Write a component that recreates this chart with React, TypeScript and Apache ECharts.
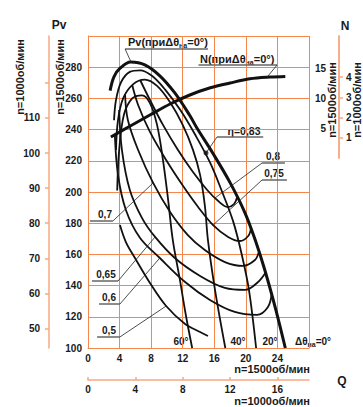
import React, { useEffect, useRef } from "react";
import * as echarts from "echarts";

// ---- axis ticks ----
const qTicks1500 = [0, 4, 8, 12, 16, 20, 24];
const qTicks1000 = [0, 4, 8, 12, 16];
const pvTicks1500 = [100, 120, 140, 160, 180, 200, 220, 240, 260, 280];
const pvTicks1000 = [50, 60, 70, 80, 90, 100, 110, 120];
const pvLabels1000 = [50, 60, 70, 80, 90, 100, 110];
const nTicks1500 = [5, 10, 15];
const nTicks1000 = [1, 2, 3, 4];

// ---- Pv(Q) at n=1500 for guide vane angles ----
const pv0 = [[2.8, 265], [3.3, 274], [4.1, 279.5], [5.4, 283.3], [7.2, 281.5], [9.1, 274.5], [11, 263.5], [12.9, 249], [13.8, 241], [15.8, 225], [18, 206], [19.9, 186.5], [21.2, 169], [22.4, 150], [23.8, 124.5], [25, 100]];
const pv20 = [[3.3, 246], [3.55, 259], [4.2, 270.5], [5.3, 277], [6.6, 278], [8.1, 274.5], [9.8, 265.5], [11.7, 252.5], [13.6, 236.5], [15.5, 218.5], [17, 200], [18.4, 181], [19.5, 159.5], [20.4, 137], [21.3, 100]];
const pv40 = [[3.55, 227], [3.8, 246], [4.45, 260], [5.7, 269], [7.2, 272], [8.75, 268], [10.4, 257.5], [12, 243], [13.3, 227], [14.2, 211], [14.8, 191.5], [15.2, 169], [16.1, 137], [17.4, 100]];
const pv60 = [[3.7, 201], [3.95, 227], [4.55, 249.5], [5.6, 260], [6.85, 262], [7.85, 257], [8.75, 243], [9.5, 220.5], [10.15, 195], [10.75, 169], [11.65, 143.5], [12.4, 121], [13.2, 100]];

// ---- efficiency contours ----
const eta80 = [[6.6, 271.8], [7.85, 259], [9.5, 243], [11.4, 226.9], [13.3, 212.8], [15.1, 201.3], [16.5, 194.2], [17.7, 190.4], [18.5, 192.3], [18.9, 196.8]];
const eta75 = [[5.6, 268.6], [6.35, 255.8], [7.85, 238.5], [9.9, 220.5], [12.05, 203.8], [13.95, 190.4], [15.85, 178.8], [17.75, 171.2], [19.25, 168.6], [20.3, 171.8], [20.65, 176.9]];
const eta70 = [[4.7, 262.2], [5.05, 246.2], [6.35, 226.9], [8.25, 205.8], [10.4, 187.2], [12.65, 172.4], [14.8, 162.8], [17.35, 155.1], [19.65, 152.6], [21.15, 156.4], [21.65, 161.5]];
const eta65 = [[3.95, 252.6], [4.3, 226.9], [5.3, 201.3], [6.85, 183.3], [8.5, 171.2], [11.0, 157.7], [14.2, 146.2], [17.35, 138.5], [19.9, 137.2], [21.55, 142.3], [22.55, 148.7]];
const eta60 = [[3.4, 236.5], [3.8, 210.9], [4.8, 188.5], [6.6, 170.5], [9.1, 157.7], [12.3, 142.3], [15.45, 130.8], [18.6, 123.1], [21.4, 121.2], [22.8, 126.3], [23.3, 135.3]];
const eta50 = [[4.05, 178.8], [4.8, 167.9], [5.95, 157.7], [7.85, 141.7], [9.9, 126.9], [12.3, 115.4], [14.2, 110.3], [15.2, 107.7]];
const etaMaxPoint = [[14.95, 225]];

// ---- N(Q) at n=1500 ----
const nCurve = [[2.9, 3.5], [5.3, 5.3], [7.9, 7.2], [10.4, 9.0], [12.9, 10.5], [15.5, 11.7], [18, 12.5], [20.5, 13.2], [23.1, 13.5], [25, 13.6]];

// ---- label anchors (underline start/end, leader target) ----
const pvLeader = { under: [[4.7, 291.7], [15.2, 291.7]], to: [5.45, 283.3] };
const nLeader = { under: [[14.0, 15.5], [23.95, 15.5]], to: [22.7, 13.5] };
const etaLeaders = [
  { under: [[16.35, 235.3], [22.2, 235.3]], from: 0, to: [14.95, 225] },
  { under: [[22.05, 218.6], [24.95, 218.6]], from: 0, to: [16.1, 196.2] },
  { under: [[22.05, 207.7], [25.2, 207.7]], from: 0, to: [15.85, 178.8] },
  { under: [[0.25, 181.4], [3.15, 181.4]], from: 1, to: [8.25, 205.8] },
  { under: [[0.5, 142.9], [3.8, 142.9]], from: 1, to: [8.5, 171.2] },
  { under: [[1.4, 128.2], [4.05, 128.2]], from: 1, to: [9.1, 157.7] },
  { under: [[1.15, 107.1], [4.05, 107.1]], from: 1, to: [9.9, 126.9] },
];

const FF = "'Liberation Sans', Arial, sans-serif";
const ORANGE = "#f6874c";
const LIGHT = "#f7a982";
const TXT = "#1a1a1a";

function txt(x: number, y: number, text: string, size: number, align = "center", rotation = 0, rich?: any) {
  return {
    type: "text",
    x,
    y,
    rotation,
    silent: true,
    style: {
      text,
      fill: TXT,
      fontSize: size,
      fontWeight: "bold",
      fontFamily: FF,
      align,
      verticalAlign: "middle",
      textAlign: align,
      textVerticalAlign: "middle",
      lineHeight: 14,
      rich,
    },
  };
}

const subRich = {
  s: { fontSize: 7, fontWeight: "bold", fontFamily: FF, fill: TXT, verticalAlign: "bottom", lineHeight: 8 },
};

export default function App() {
  const ref = useRef<HTMLDivElement>(null);
  useEffect(() => {
    if (!ref.current) return;
    const chart = echarts.init(ref.current, undefined, { renderer: "svg" });
    const lbl = { color: TXT, fontWeight: "bold", fontSize: 10, fontFamily: FF };
    const thin = (data: number[][], w = 1.8) => ({
      type: "line", data, showSymbol: false, smooth: 0.35, silent: true,
      xAxisIndex: 0, yAxisIndex: 0, z: 3,
      lineStyle: { color: "#111", width: w },
    });
    const seg = (data: number[][], color: string, w: number, xi = 0, yi = 0) => ({
      type: "line", data, showSymbol: false, smooth: false, silent: true,
      xAxisIndex: xi, yAxisIndex: yi, z: 4,
      lineStyle: { color, width: w },
    });
    const series: any[] = [
      thin(pv60), thin(pv40), thin(pv20), thin(pv0, 3),
      thin(eta80), thin(eta75), thin(eta70), thin(eta65), thin(eta60), thin(eta50),
      {
        type: "line", data: nCurve, showSymbol: false, smooth: 0.35, silent: true,
        xAxisIndex: 2, yAxisIndex: 2, z: 3, lineStyle: { color: "#111", width: 3 },
      },
      {
        type: "scatter", data: etaMaxPoint, symbolSize: 5, xAxisIndex: 0, yAxisIndex: 0,
        itemStyle: { color: "#111" }, silent: true, z: 5,
      },
      seg(pvLeader.under, "#666", 1.5),
      seg([pvLeader.under[0], pvLeader.to], "#222", 0.8),
      seg(nLeader.under, "#666", 1.5, 2, 2),
      seg([nLeader.under[1], nLeader.to], "#222", 0.8, 2, 2),
    ];
    etaLeaders.forEach((l) => {
      series.push(seg(l.under, "#666", 1.5));
      series.push(seg([l.under[l.from], l.to], "#222", 0.8));
    });

    const option: any = {
      animation: false,
      backgroundColor: "#fff",
      grid: [
        { left: 88, top: 36, width: 221, height: 312 },
        { left: 88, top: 36, width: 221, height: 122 },
      ],
      xAxis: [
        {
          gridIndex: 0, type: "value", min: 0, max: 28, interval: 4,
          axisLine: { show: true, onZero: false, lineStyle: { color: ORANGE } },
          axisTick: { show: false },
          axisLabel: { ...lbl, margin: 5, formatter: (v: number) => (qTicks1500.includes(v) ? String(v) : "") },
          splitLine: { show: true, lineStyle: { color: ORANGE, width: 1 } },
        },
        {
          gridIndex: 0, type: "value", position: "bottom", offset: 32, min: 0, max: (28 * 2) / 3,
          axisLine: { show: true, onZero: false, lineStyle: { color: LIGHT, width: 1.5 } },
          axisTick: { show: true, inside: true, length: 3, customValues: qTicks1000, lineStyle: { color: LIGHT, width: 1.5 } },
          axisLabel: { ...lbl, margin: 4, customValues: qTicks1000 },
          splitLine: { show: false },
        },
        { gridIndex: 1, type: "value", min: 0, max: 28, show: false },
      ],
      yAxis: [
        {
          gridIndex: 0, type: "value", min: 100, max: 300, interval: 20, position: "left",
          axisLine: { show: true, onZero: false, lineStyle: { color: ORANGE } },
          axisTick: { show: false },
          axisLabel: { ...lbl, margin: 6, formatter: (v: number) => (pvTicks1500.includes(v) ? String(v) : "") },
          splitLine: { show: true, lineStyle: { color: ORANGE, width: 1 } },
        },
        {
          gridIndex: 0, type: "value", position: "left", offset: 39, min: (100 * 4) / 9, max: (300 * 4) / 9,
          axisLine: { show: true, onZero: false, lineStyle: { color: LIGHT, width: 1.5 } },
          axisTick: { show: true, length: 4, customValues: pvTicks1000, lineStyle: { color: LIGHT, width: 1.5 } },
          axisLabel: { ...lbl, margin: 9, customValues: pvLabels1000 },
          splitLine: { show: false },
        },
        {
          gridIndex: 1, type: "value", position: "right", offset: 30, min: 0, max: 122 / 6,
          axisLine: { show: true, onZero: false, lineStyle: { color: LIGHT, width: 1.5 } },
          axisTick: { show: false },
          axisLabel: { ...lbl, inside: true, margin: 13, customValues: nTicks1500 },
          splitLine: { show: false },
        },
        {
          gridIndex: 1, type: "value", position: "right", offset: 30, min: 0, max: ((122 / 6) * 8) / 27,
          axisLine: { show: true, onZero: false, lineStyle: { color: LIGHT, width: 1.5 } },
          axisTick: { show: true, length: 4, customValues: nTicks1000, lineStyle: { color: LIGHT, width: 1.5 } },
          axisLabel: { ...lbl, margin: 7, customValues: nTicks1000 },
          splitLine: { show: false },
        },
      ],
      series,
      graphic: [
        txt(59, 25, "Pv", 12),
        txt(345, 26, "N", 12),
        txt(60, 77, "n=1500об/мин", 11, "center", Math.PI / 2),
        txt(20, 77, "n=1000об/мин", 11, "center", Math.PI / 2),
        txt(332, 100, "n=1500об/мин", 11, "center", Math.PI / 2),
        txt(357, 100, "n=1000об/мин", 11, "center", Math.PI / 2),
        txt(310, 369, "n=1500об/мин", 11, "right"),
        txt(310, 401, "n=1000об/мин", 11, "right"),
        txt(342, 381, "Q", 12),
        txt(128, 42, "Pv(приΔθ{s|на}=0°)", 11, "left", 0, subRich),
        txt(200, 59, "N(приΔθ{s|на}=0°)", 11, "left", 0, subRich),
        txt(244, 131, "η=0,83", 10.5),
        txt(273, 156, "0,8", 10),
        txt(274, 173, "0,75", 10),
        txt(105, 214, "0,7", 10),
        txt(106, 274, "0,65", 10),
        txt(109, 297, "0,6", 10),
        txt(109, 330, "0,5", 10),
        txt(181, 341, "60°", 10),
        txt(238, 341, "40°", 10),
        txt(270, 341, "20°", 10),
        txt(295, 341, "Δθ{s|на}=0°", 10, "left", 0, subRich),
      ],
    };
    chart.setOption(option);
    return () => chart.dispose();
  }, []);
  return (
    <div
      ref={ref}
      style={{ position: "fixed", left: 0, top: 0, width: 363, height: 407, background: "#fff" }}
    />
  );
}
